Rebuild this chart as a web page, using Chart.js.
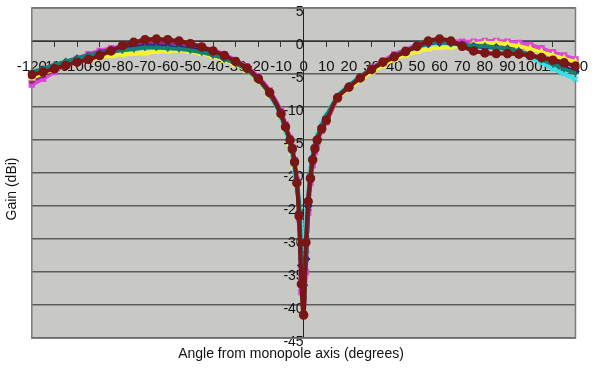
<!DOCTYPE html>
<html>
<head>
<meta charset="utf-8">
<script src="https://cdn.jsdelivr.net/npm/chart.js"></script>
<style>
    body { margin: 0; background: #fff; }
    #wrap { width: 600px; height: 370px; }
</style>
</head>
<body>
<div id="wrap"><canvas id="gainChart" width="600" height="370"></canvas></div>
<script>
// angle from monopole axis (degrees) - denser around the null
const angles = [-120,-115,-110,-105,-100,-95,-90,-85,-80,-75,-70,-65,-60,-55,-50,-45,-40,-35,-30,-25,
    -20,-15,-10,-8,-6,-5,-4,-3,-2,-1,0,1,2,3,4,5,6,8,10,15,
    20,25,30,35,40,45,50,55,60,65,70,75,80,85,90,95,100,105,110,115,120];

// gain (dBi) per series
const gainNavy = [-5.0,-4.4,-3.8,-3.2,-2.7,-2.3,-1.9,-1.5,-1.2,-1.0,-0.8,-0.8,-0.9,-1.0,-1.2,-1.5,-2.0,-2.6,-3.3,-4.3,
    -5.8,-8.0,-11.2,-13.2,-15.2,-16.6,-18.6,-21.5,-26.0,-34.0,-37.0,-33.0,-25.0,-20.5,-17.8,-16.0,-14.8,-13.0,-11.6,-8.5,
    -6.9,-5.5,-4.3,-3.3,-2.4,-1.6,-0.9,-0.4,-0.2,-0.3,-0.6,-0.8,-0.9,-1.0,-1.2,-1.6,-2.1,-2.7,-3.3,-4.0,-4.6];
const gainMagenta = [-6.6,-5.7,-4.7,-3.6,-2.7,-2.0,-1.5,-1.1,-0.8,-0.5,-0.3,-0.2,-0.2,-0.3,-0.5,-0.9,-1.4,-2.0,-2.9,-3.9,
    -5.4,-7.5,-10.6,-12.6,-14.7,-16.0,-18.0,-21.0,-27.0,-38.0,-39.0,-35.0,-26.0,-21.5,-18.8,-16.8,-15.4,-13.6,-12.3,-8.8,
    -7.0,-5.5,-4.1,-3.0,-2.0,-1.3,-0.6,-0.1,0.1,0.0,-0.1,-0.1,0.0,0.0,-0.1,-0.3,-0.6,-1.1,-1.7,-2.2,-2.8];
const gainYellow = [-5.6,-4.9,-4.3,-3.7,-3.2,-2.8,-2.5,-2.2,-2.0,-1.9,-1.8,-1.6,-1.5,-1.4,-1.6,-1.9,-2.3,-2.9,-3.6,-4.5,
    -6.0,-8.2,-11.4,-13.4,-15.5,-17.0,-19.0,-21.8,-25.0,-30.0,-33.0,-29.0,-24.0,-20.5,-18.0,-16.2,-15.0,-13.2,-11.8,-8.8,
    -7.2,-5.9,-4.7,-3.7,-2.8,-2.1,-1.6,-1.2,-1.0,-0.9,-0.7,-0.5,-0.3,-0.3,-0.5,-0.8,-1.2,-1.7,-2.2,-2.7,-3.2];
const gainCyan = [-5.3,-4.6,-3.9,-3.3,-2.8,-2.3,-1.9,-1.6,-1.3,-1.1,-0.9,-0.9,-1.0,-1.1,-1.3,-1.6,-2.0,-2.6,-3.3,-4.3,
    -5.9,-8.1,-11.5,-13.6,-15.7,-17.2,-19.5,-22.5,-24.0,-28.0,-40.0,-27.0,-23.0,-19.5,-17.2,-15.5,-14.3,-12.5,-11.2,-8.3,
    -6.7,-5.4,-4.2,-3.2,-2.4,-1.6,-1.0,-0.5,-0.3,-0.4,-0.6,-0.7,-0.8,-1.0,-1.3,-1.8,-2.5,-3.3,-4.2,-5.0,-5.8];
const gainPurple = [-6.0,-5.2,-4.4,-3.6,-2.8,-2.2,-1.7,-1.3,-0.9,-0.6,-0.4,-0.3,-0.3,-0.4,-0.7,-1.1,-1.6,-2.3,-3.1,-4.1,
    -5.6,-7.7,-10.8,-12.8,-14.9,-16.3,-18.3,-21.3,-26.5,-35.5,-36.0,-33.0,-25.5,-21.0,-18.3,-16.4,-15.1,-13.3,-12.0,-8.7,
    -7.0,-5.6,-4.3,-3.2,-2.3,-1.5,-0.8,-0.3,-0.1,-0.2,-0.4,-0.6,-0.6,-0.6,-0.7,-0.9,-1.2,-1.7,-2.3,-2.9,-3.5];
const gainMaroon = [-5.1,-4.7,-4.2,-3.7,-3.2,-2.8,-2.2,-1.5,-0.7,-0.2,0.2,0.3,0.2,0.0,-0.4,-0.9,-1.5,-2.2,-3.1,-4.1,
    -5.7,-7.8,-11.0,-13.0,-15.0,-16.3,-18.3,-21.5,-26.5,-36.8,-41.5,-30.5,-24.3,-20.8,-18.0,-16.3,-15.0,-13.3,-12.0,-8.6,
    -7.0,-5.6,-4.3,-3.2,-2.4,-1.6,-0.8,0.0,0.3,0.0,-0.8,-1.5,-1.8,-1.9,-1.9,-2.0,-2.2,-2.5,-2.9,-3.3,-3.8];
const gainTeal = [-4.7,-4.2,-3.6,-3.1,-2.6,-2.2,-1.9,-1.6,-1.4,-1.2,-1.0,-1.0,-1.1,-1.2,-1.4,-1.7,-2.1,-2.7,-3.4,-4.4,
    -5.9,-8.0,-11.2,-13.2,-15.3,-16.8,-18.8,-21.0,-25.0,-33.0,-41.0,-32.0,-24.0,-20.0,-17.5,-15.8,-14.6,-12.8,-11.4,-8.4,
    -6.8,-5.4,-4.2,-3.2,-2.3,-1.5,-0.8,-0.3,-0.1,-0.3,-0.6,-0.7,-0.8,-1.0,-1.2,-1.6,-2.1,-2.8,-3.5,-4.2,-4.9];

const xTicks = { min: -120, max: 120, step: 10 };
const yTicks = { min: -45, max: 5, step: 5 };

const fontFamily = 'Arial, "Liberation Sans", sans-serif';

function toPoints(values) {
    return angles.map((a, i) => ({ x: a, y: values[i] }));
}

// excel-like series: colour, marker, drawing order (0 = top)
function series(label, values, color, style, order, radius, width) {
    return {
        label: label,
        data: toPoints(values),
        borderColor: color,
        backgroundColor: color,
        borderWidth: width || 4,
        pointStyle: style,
        pointRadius: radius || 3.5,
        pointBorderWidth: 1.5,
        pointBorderColor: color,
        pointBackgroundColor: color,
        cubicInterpolationMode: 'monotone',
        order: order,
        clip: 4
    };
}

// grey plot area with a border, like the old excel default
const plotArea = {
    id: 'plotArea',
    beforeDraw(chart) {
        const { ctx, chartArea: a } = chart;
        ctx.save();
        ctx.fillStyle = '#c8c8c4';
        ctx.fillRect(a.left, a.top, a.width, a.height);
        ctx.restore();
    },
    beforeDatasetsDraw(chart) {
        const { ctx, chartArea: a } = chart;
        ctx.save();
        ctx.strokeStyle = '#7c7c7c';
        ctx.lineWidth = 1.5;
        ctx.strokeRect(a.left, a.top, a.width, a.height);
        ctx.restore();
    }
};

new Chart(document.getElementById('gainChart'), {
    type: 'line',
    data: {
        datasets: [
            series('Series 6', gainMaroon, '#7a1616', 'circle', 0, 4, 4),
            series('Series 7', gainTeal, '#14806f', 'cross', 1, 3.5, 4),
            series('Series 1', gainNavy, '#22228a', 'rectRot', 2),
            series('Series 4', gainCyan, '#35e0ea', 'crossRot', 3),
            series('Series 3', gainYellow, '#f6f430', 'triangle', 4),
            series('Series 5', gainPurple, '#8a2c8a', 'star', 5),
            series('Series 2', gainMagenta, '#e048dc', 'rect', 6)
        ]
    },
    options: {
        responsive: false,
        animation: false,
        layout: { padding: { top: 8, right: 18, left: 0, bottom: 0 } },
        plugins: {
            legend: { display: false },
            tooltip: { enabled: false },
            title: {
                display: true,
                position: 'bottom',
                text: 'Angle from monopole axis (degrees)',
                color: '#111',
                font: { family: fontFamily, size: 14, weight: 'normal' },
                padding: { top: 8, bottom: 7 }
            },
            subtitle: {
                display: true,
                position: 'left',
                text: 'Gain (dBi)',
                color: '#111',
                font: { family: fontFamily, size: 14, weight: 'normal' },
                padding: { top: 4, bottom: 11 }
            }
        },
        scales: {
            x: {
                type: 'linear',
                position: { y: 0 },
                min: xTicks.min,
                max: xTicks.max,
                grid: { display: true, drawOnChartArea: false, drawTicks: true, tickLength: 5, tickColor: '#333' },
                border: { display: true, color: '#333', width: 1 },
                ticks: {
                    stepSize: xTicks.step,
                    autoSkip: false,
                    maxRotation: 0,
                    minRotation: 0,
                    padding: 12,
                    color: '#111',
                    font: { family: fontFamily, size: 15 }
                }
            },
            y: {
                type: 'linear',
                position: { x: 0 },
                min: yTicks.min,
                max: yTicks.max,
                // long ticks give the gap between axis and labels (they lie on the gridlines)
                grid: { color: '#5c5c5c', lineWidth: 1.5, drawTicks: true, tickLength: 15, tickColor: '#5c5c5c' },
                border: { display: true, color: '#222', width: 1 },
                ticks: {
                    stepSize: yTicks.step,
                    // labels sit a little under their gridline so the minus sign shows
                    labelOffset: 4,
                    padding: 0,
                    color: '#111',
                    font: { family: fontFamily, size: 14, lineHeight: 1 }
                }
            }
        }
    },
    plugins: [plotArea]
});
</script>
</body>
</html>
